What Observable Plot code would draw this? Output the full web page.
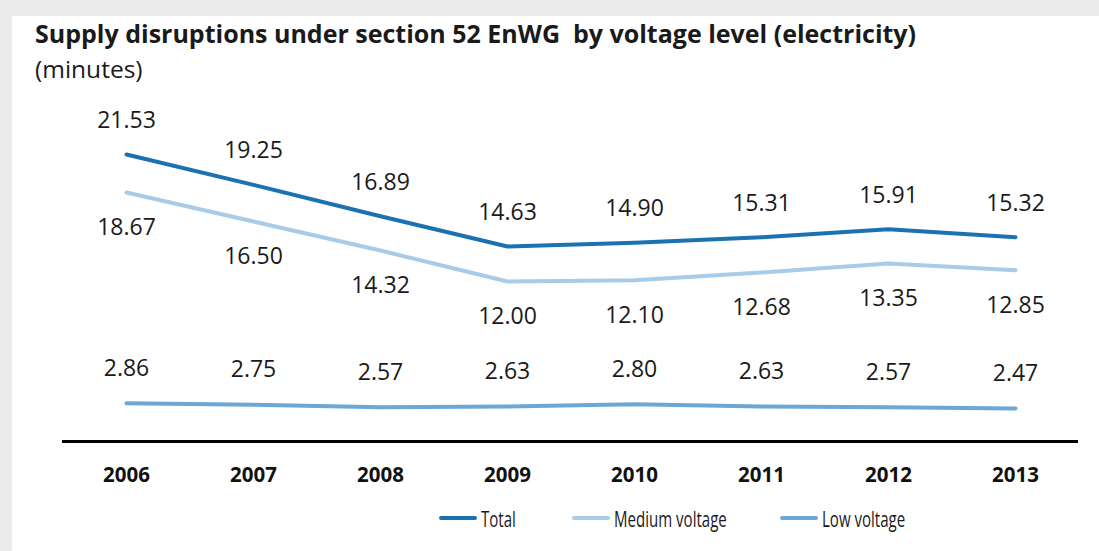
<!DOCTYPE html>
<html><head><meta charset="utf-8">
<script src="https://cdn.jsdelivr.net/npm/d3@7"></script>
<script src="https://cdn.jsdelivr.net/npm/@observablehq/plot@0.6"></script>
<style>
body{margin:0;background:#ececec;width:1099px;height:551px;overflow:hidden;position:relative;font-family:"Open Sans",sans-serif;color:#1a1a1a;}
#chart{position:absolute;left:12px;top:16px;}
#title{position:absolute;left:35px;top:16px;font-weight:bold;font-size:25px;line-height:34px;white-space:pre;}
#subtitle{position:absolute;left:35px;top:52px;font-size:24.5px;line-height:34px;}
.leg{position:absolute;top:504px;height:28px;display:flex;align-items:center;font-size:21.5px;white-space:nowrap;}
.sw{display:inline-block;width:38px;height:4px;border-radius:2px;margin-right:4px;flex:none;}
.lt{display:inline-block;transform:scaleX(0.7);transform-origin:left center;}
g[aria-label="x-axis tick label"] text{font-weight:bold;}
</style></head>
<body>
<div id="chart"></div>
<div id="title">Supply disruptions under section 52 EnWG  by voltage level (electricity)</div>
<div id="subtitle">(minutes)</div>
<div id="legend"></div>
<script>
const years = [2006, 2007, 2008, 2009, 2010, 2011, 2012, 2013];
const total = [21.53, 19.25, 16.89, 14.63, 14.90, 15.31, 15.91, 15.32];
const medium = [18.67, 16.50, 14.32, 12.00, 12.10, 12.68, 13.35, 12.85];
const low = [2.86, 2.75, 2.57, 2.63, 2.80, 2.63, 2.57, 2.47];
const seriesNames = ["Total", "Medium voltage", "Low voltage"];
const seriesColors = ["#1b72b0", "#a8cbe7", "#6ea7d3"];

const seriesValues = [total, medium, low];
const rows = seriesNames.flatMap((s, i) => years.map((y, j) => ({year: y, value: seriesValues[i][j], series: s})));
const labelOffsets = {"Total": -34, "Medium voltage": 35, "Low voltage": -35};

const plot = Plot.plot({
  width: 1087, height: 535,
  marginLeft: 50, marginRight: 21, marginTop: 105, marginBottom: 110,
  style: {fontFamily: "Open Sans", background: "white", color: "#1a1a1a"},
  x: {type: "point", domain: years, padding: 0.5, label: null},
  y: {domain: [0, 24], axis: null},
  color: {domain: seriesNames, range: seriesColors},
  marks: [
    Plot.ruleY([0], {stroke: "#000", strokeWidth: 3}),
    Plot.axisX({tickSize: 0, tickPadding: 26, fontSize: 20.5, fontWeight: "bold", label: null, tickFormat: d => String(d), fill: "#111"}),
    Plot.line(rows, {x: "year", y: "value", z: "series", stroke: "series", strokeWidth: 4, strokeLinecap: "round", strokeLinejoin: "round"}),
    ...seriesNames.map(s => Plot.text(rows.filter(r => r.series === s), {
      x: "year", y: "value", text: d => d.value.toFixed(2), dy: labelOffsets[s], fontSize: 23, fill: "#1a1a1a"
    }))
  ]
});
document.getElementById("chart").appendChild(plot);

const legendLefts = [439, 572, 780];
const legend = document.getElementById("legend");
seriesNames.forEach((s, i) => {
  const d = document.createElement("div");
  d.className = "leg";
  d.style.left = legendLefts[i] + "px";
  d.innerHTML = `<span class="sw" style="background:${seriesColors[i]}"></span><span class="lt">${s}</span>`;
  legend.appendChild(d);
});
</script>
</body></html>
